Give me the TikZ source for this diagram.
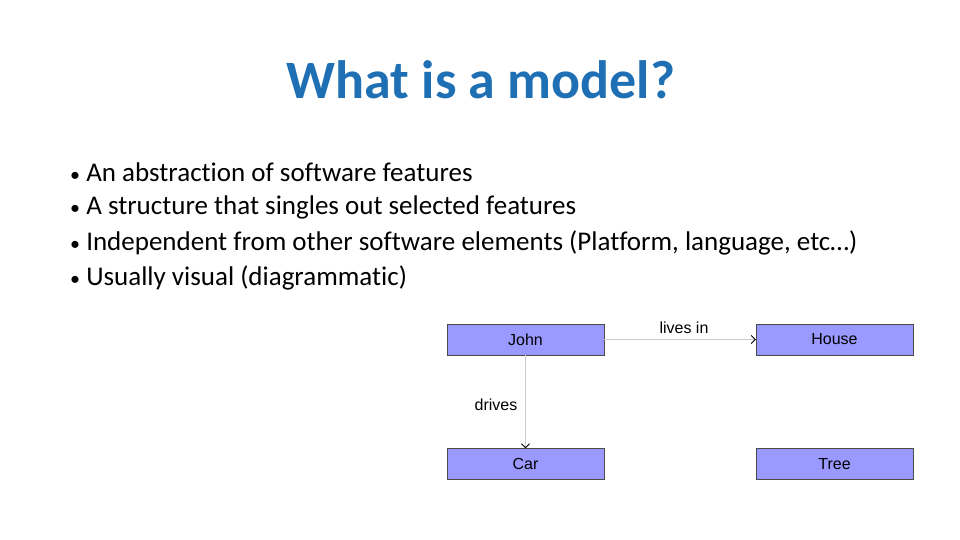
\documentclass[tikz,border=0pt]{standalone}
\usepackage{fontspec}
\setmainfont{Carlito}[Ligatures=NoCommon]
\newfontfamily\arialfont{Liberation Sans}
\usepackage{xcolor}
\usetikzlibrary{arrows.meta,positioning}
\definecolor{titleblue}{HTML}{1F6FB4}
\definecolor{boxfill}{HTML}{9999FF}
\begin{document}
\begin{tikzpicture}[x=1pt,y=-1pt,
    box/.style={rectangle, draw=black!70, fill=boxfill, minimum width=157pt, minimum height=31pt, inner sep=0pt, font=\arialfont\fontsize{16}{18}\selectfont},
    arrow/.style={-{Straight Barb[length=4pt,width=8pt,color=black]}, draw=black!20, line width=0.8pt},
    bullet/.style={anchor=west, inner sep=0pt, font=\fontsize{27}{32}\selectfont}
]
    \useasboundingbox (0,0) rectangle (960,540);
    % Title
    \node[font=\bfseries\fontsize{54}{60}\selectfont, text=titleblue] (title) at (481,80) {What is a model?};

    % Bullets
    \node[bullet] (b1) at (70,172) {{\fontsize{20}{20}\selectfont\textbullet}\ An abstraction of software features};
    \node[bullet] (b2) at (70,207) {{\fontsize{20}{20}\selectfont\textbullet}\ A structure that singles out selected features};
    \node[bullet] (b3) at (70,243) {{\fontsize{20}{20}\selectfont\textbullet}\ Independent from other software elements (Platform, language, etc…)};
    \node[bullet] (b4) at (70,278) {{\fontsize{20}{20}\selectfont\textbullet}\ Usually visual (diagrammatic)};

    % Boxes
    \node[box] (john) at (525.5,339.5) {John};
    \node[box] (house) at (834.5,339.5) {House};
    \node[box] (car) at (525.5,464) {Car};
    \node[box] (tree) at (834.5,464) {Tree};

    % Arrows
    \draw[arrow] (john) -- (house);
    \draw[arrow] (john) -- (car);
    \node[font=\arialfont\fontsize{16}{18}\selectfont] (livesin) at (684,328) {lives in};
    \node[font=\arialfont\fontsize{16}{18}\selectfont] (drives) at (496,405) {drives};
\end{tikzpicture}
\end{document}
